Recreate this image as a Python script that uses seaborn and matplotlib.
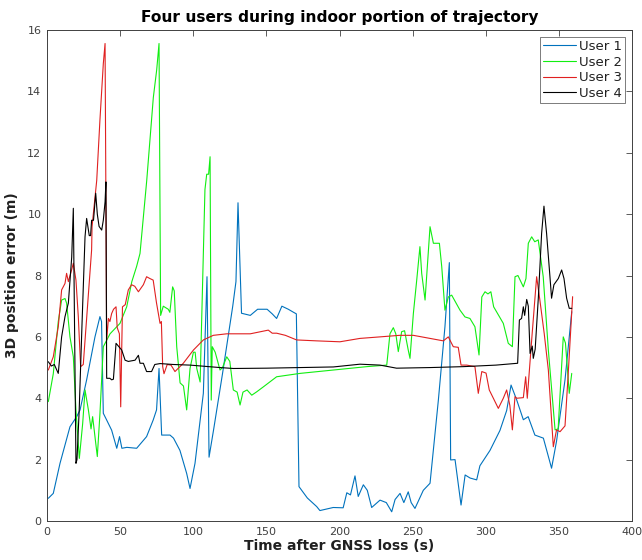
import numpy as np
import pandas as pd
import matplotlib
matplotlib.use("Agg")
import matplotlib.pyplot as plt
import seaborn as sns

users = ["User 1", "User 2", "User 3", "User 4"]
colors = ["#0072BD", "#11EE11", "#E02020", "#000000"]

user1 = [(0.9, 0.74), (4.3, 0.9), (8.9, 1.88), (15.7, 3.07), (20.3, 3.4), (22.6, 3.62), (27.1, 4.6),
         (32.8, 6.0), (36.2, 6.66), (37.3, 6.5), (38.5, 3.51), (40.8, 3.29), (44.2, 2.96), (47.7, 2.37),
         (49.6, 2.75), (51.2, 2.37), (54.6, 2.4), (61.3, 2.37), (68.1, 2.75), (72.6, 3.29), (74.9, 3.62),
         (76.6, 4.97), (78.4, 2.8), (84.1, 2.8), (86.5, 2.7), (90.9, 2.3), (95.5, 1.55), (97.8, 1.06),
         (101.2, 1.88), (106.9, 4.16), (109.4, 7.96), (110.8, 2.08), (114.0, 3.0), (120.0, 4.8),
         (127.0, 7.0), (129.2, 7.8), (130.6, 10.37), (133.0, 6.77), (139.0, 6.7), (144.0, 6.9),
         (150.5, 6.9), (154.0, 6.75), (157.0, 6.6), (160.6, 7.0), (165.0, 6.9), (168.6, 6.8),
         (170.5, 6.75), (172.3, 1.12), (178.0, 0.75), (184.4, 0.47), (186.6, 0.34), (195.7, 0.44),
         (202.5, 0.43), (205.0, 0.92), (207.5, 0.85), (210.6, 1.47), (212.8, 0.8), (216.3, 1.18),
         (219.0, 1.0), (222.0, 0.44), (227.7, 0.68), (232.0, 0.6), (235.7, 0.3), (238.0, 0.7),
         (241.4, 0.9), (244.0, 0.6), (247.0, 0.95), (249.0, 0.6), (251.6, 0.41), (257.3, 1.0),
         (261.9, 1.23), (267.6, 3.94), (272.1, 6.33), (275.1, 8.42), (276.0, 1.99), (279.0, 2.0),
         (283.1, 0.52), (285.9, 1.5), (289.3, 1.4), (293.8, 1.34), (296.0, 1.8), (302.9, 2.3),
         (309.7, 2.95), (314.3, 3.6), (317.3, 4.43), (321.2, 3.94), (325.7, 3.3), (329.0, 3.4),
         (333.6, 2.8), (339.4, 2.7), (345.0, 1.72), (348.4, 2.6), (354.2, 4.6), (358.8, 6.82)]

user2 = [(0.9, 3.89), (4.3, 4.8), (7.7, 6.5), (10, 7.2), (12.3, 7.25), (13.4, 7.1), (15.7, 6.0), (18, 5.35),
         (19.8, 3.62), (22.1, 2.04), (24.4, 3.18), (26, 4.27), (28.3, 3.62), (30.1, 3.0), (31.2, 3.4),
         (32.8, 2.75), (34.4, 2.1), (36.2, 3.5), (38.5, 5.68), (43.1, 6.1), (49.9, 6.44), (54.5, 6.98),
         (58, 7.8), (61.3, 8.3), (63.6, 8.72), (68.2, 11.1), (72.7, 13.8), (75, 14.7), (76.6, 15.56),
         (77.7, 6.7), (79.5, 7.0), (82.9, 6.9), (84, 6.8), (85.9, 7.63), (87, 7.5), (88.7, 5.68), (91, 4.5),
         (93.3, 4.4), (95.5, 3.62), (97.8, 4.97), (100.1, 5.5), (101.3, 5.5), (102.4, 4.97), (104.7, 4.53),
         (106, 7.0), (108, 10.8), (109.2, 11.3), (110.5, 11.3), (111.5, 11.87), (112.3, 3.94), (113, 5.68),
         (115, 5.5), (118.3, 4.92), (120, 5.0), (122.9, 5.35), (125, 5.2), (127.4, 4.27), (130, 4.2),
         (132, 3.78), (134, 4.2), (136.8, 4.27), (140, 4.1), (143.4, 4.21), (147.9, 4.37), (157, 4.7),
         (173, 4.81), (195.8, 4.92), (218.6, 5.03), (232.3, 5.08), (234.5, 6.1), (236.8, 6.3),
         (238.5, 6.1), (240.2, 5.52), (242.5, 6.17), (244.5, 6.2), (247, 5.57), (248.2, 5.3),
         (250.5, 6.76), (252.8, 7.85), (255, 8.94), (256.2, 8.07), (258.5, 7.2), (261.9, 9.59),
         (264.2, 9.05), (268.3, 9.05), (269.9, 8.29), (272.1, 6.87), (274.4, 7.3), (276.7, 7.36),
         (282.4, 6.87), (285.8, 6.65), (289.2, 6.6), (292.6, 6.33), (295.4, 5.41), (297.3, 7.3),
         (299.5, 7.47), (301.5, 7.4), (303.5, 7.47), (305.4, 6.98), (312, 6.44), (315.4, 5.79),
         (318.2, 5.68), (320, 7.96), (322, 8.0), (325.7, 7.63), (327.5, 7.9), (329.1, 9.05),
         (331.4, 9.26), (333.5, 9.1), (335.9, 9.16), (339.3, 7.96), (342.8, 5.57), (347.4, 2.97),
         (349.5, 3.0), (353, 6.0), (354.5, 5.8), (357.1, 4.16), (358.8, 4.81)]

user3 = [(0.9, 4.92), (4.3, 5.35), (7.7, 6.33), (10, 7.53), (12.3, 7.74), (13.4, 8.07), (14.6, 7.8),
         (16.8, 8.18), (18, 8.4), (19.8, 7.85), (21.4, 6.66), (23, 5.03), (24.8, 5.1), (27.1, 6.6),
         (30.5, 8.83), (30.8, 9.59), (34, 11.1), (36.2, 13.07), (38.5, 14.9), (39.7, 15.56), (40.8, 5.9),
         (42, 6.6), (43, 6.5), (44.2, 6.76), (45.5, 6.9), (47.2, 6.98), (48, 6.3), (49.5, 6.1),
         (50.4, 3.72), (51.6, 6.98), (53.5, 7.05), (55.6, 7.53), (57.8, 7.7), (60, 7.65), (62.5, 7.47),
         (65.9, 7.7), (68.1, 7.96), (70.4, 7.9), (72.6, 7.85), (74.9, 7.1), (77.3, 6.44), (78.2, 6.5),
         (79.1, 5.03), (80, 4.8), (82.2, 5.1), (84.8, 5.08), (87.5, 4.87), (93.2, 5.14), (100.1, 5.57),
         (106.9, 5.9), (113.7, 6.05), (122.9, 6.1), (139, 6.1), (151.3, 6.22), (154, 6.12), (157, 6.12),
         (163, 6.05), (170.7, 5.9), (184.4, 5.87), (200.3, 5.84), (214, 5.95), (227.7, 6.0),
         (241, 6.05), (250.5, 6.05), (261.9, 5.95), (271, 5.87), (274.4, 6.0), (277.8, 5.68),
         (281.2, 5.66), (283.1, 5.08), (287, 5.08), (292.6, 5.03), (294.9, 4.16), (297.3, 4.87),
         (300.2, 4.82), (302.4, 4.27), (305.2, 4.0), (308.6, 3.67), (312, 4.0), (314.3, 4.27),
         (316.5, 3.76), (318.2, 2.97), (320, 4.05), (321.2, 4.0), (325.7, 4.02), (327.3, 4.7),
         (328.4, 4.0), (331.4, 5.9), (334.8, 7.96), (337, 7.2), (340, 6.1), (342.8, 4.92),
         (346.2, 2.42), (348.4, 2.97), (350.8, 2.91), (354.2, 3.1), (356.4, 4.81), (359.4, 7.31)]

user4 = [(0.9, 5.19), (3, 5.05), (5, 5.1), (7.7, 4.81), (10, 6.0), (12.3, 6.66), (14.6, 7.1), (16.9, 8.6),
         (18, 10.19), (19.8, 1.88), (20.5, 2.0), (22, 3.6), (24, 6.5), (26, 9.26), (27.1, 9.86),
         (28.9, 9.3), (29.8, 9.3), (30.5, 9.8), (31.8, 9.8), (33.3, 10.68), (34.4, 10.0), (35.6, 9.6),
         (37.4, 9.48), (38.5, 9.8), (39.7, 10.4), (40.3, 11.05), (40.8, 4.65), (43, 4.65), (44.2, 4.6),
         (45.4, 4.62), (47.2, 5.79), (48.8, 5.7), (51.1, 5.57), (53.4, 5.24), (55.6, 5.2), (60.2, 5.24),
         (62.5, 5.4), (63.6, 5.14), (65.9, 5.14), (68.1, 4.87), (71.5, 4.87), (73.7, 5.1), (77.3, 5.13),
         (86.4, 5.1), (97.8, 5.08), (118.3, 5.0), (127.4, 4.97), (150, 4.98), (173, 5.0), (195.8, 5.02),
         (214, 5.11), (227.7, 5.08), (239, 4.98), (262, 5.0), (284.7, 5.03), (307, 5.08), (321.8, 5.14),
         (323, 6.55), (324.5, 6.6), (325.7, 6.98), (326.6, 6.7), (328, 7.22), (329.1, 7.0), (330.3, 5.46),
         (331.8, 5.7), (332.5, 5.3), (333.8, 5.6), (336, 7.31), (338.2, 9.37), (339.8, 10.26),
         (341.6, 9.37), (343.9, 7.96), (345, 7.26), (346.6, 7.7), (349.6, 7.9), (351.9, 8.18),
         (353.5, 7.9), (355.3, 7.26), (357.1, 6.93), (358.8, 6.93)]

x_ticks = [0, 50, 100, 150, 200, 250, 300, 350, 400]
y_ticks = [0, 2, 4, 6, 8, 10, 12, 14, 16]

frames = []
for name, pts in zip(users, [user1, user2, user3, user4]):
    arr = np.array(pts, dtype=float)
    frames.append(pd.DataFrame({"t": arr[:, 0], "err": arr[:, 1], "user": name}))
df = pd.concat(frames, ignore_index=True)

sns.set_style("white")
plt.rcParams["font.family"] = ["DejaVu Sans"]

fig = plt.figure(figsize=(6.42, 5.6), dpi=100)
ax = fig.add_axes([47 / 642, 39 / 560, 585 / 642, 491 / 560])

sns.lineplot(data=df, x="t", y="err", hue="user", hue_order=users,
             palette=dict(zip(users, colors)), sort=False, estimator=None,
             linewidth=0.8, ax=ax)

ax.set_xlim(0, 400)
ax.set_ylim(0, 16)
ax.set_xticks(x_ticks)
ax.set_yticks(y_ticks)
ax.tick_params(direction="in", top=True, right=True, length=4, width=0.6,
               labelsize=8, colors="#404040", pad=4)
for s in ax.spines.values():
    s.set_visible(True)
    s.set_color("#404040")
    s.set_linewidth(0.7)

ax.set_title("Four users during indoor portion of trajectory", fontsize=11.1,
             fontweight="bold", pad=6, color="black")
ax.set_xlabel("Time after GNSS loss (s)", fontsize=10, fontweight="bold", labelpad=2,
              color="#202020")
ax.set_ylabel("3D position error (m)", fontsize=10, fontweight="bold", labelpad=6,
              color="#202020")

leg = ax.legend(loc="upper right", fontsize=9.5, handlelength=2.5, handletextpad=0.2,
                borderpad=0.25, labelspacing=0.2, frameon=True, fancybox=False,
                borderaxespad=0.5)
leg.get_frame().set_edgecolor("#404040")
leg.get_frame().set_linewidth(0.6)
for t in leg.get_texts():
    t.set_color("#202020")

fig.savefig("out.png", dpi=100)
